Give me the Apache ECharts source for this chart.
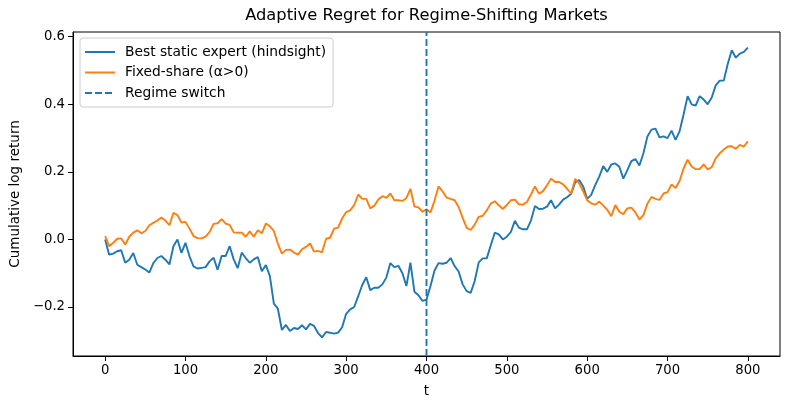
<!DOCTYPE html>
<html>
<head>
<meta charset="utf-8">
<script src="https://cdn.jsdelivr.net/npm/echarts@6/dist/echarts.min.js"></script>
<style>html,body{margin:0;padding:0;background:#fff;}#c{width:790px;height:409px;}</style>
</head>
<body>
<div id="c"></div>
<script>
// time steps (every 5 units)
var tStep = 5;
var tCount = 161;
var tValues = [];
for (var i = 0; i < tCount; i++) tValues.push(i * tStep);

var bestStatic = [
 0.000,-0.045,-0.042,-0.035,-0.032,-0.069,-0.060,-0.040,-0.075,-0.082,
-0.089,-0.098,-0.070,-0.055,-0.049,-0.060,-0.074,-0.020, 0.000,-0.040,
-0.010,-0.050,-0.080,-0.086,-0.084,-0.082,-0.065,-0.054,-0.090,-0.049,
-0.049,-0.020,-0.059,-0.085,-0.039,-0.055,-0.069,-0.059,-0.052,-0.094,
-0.076,-0.108,-0.190,-0.205,-0.268,-0.253,-0.271,-0.262,-0.265,-0.254,
-0.266,-0.250,-0.256,-0.277,-0.290,-0.274,-0.276,-0.279,-0.276,-0.260,
-0.220,-0.207,-0.200,-0.168,-0.135,-0.112,-0.150,-0.143,-0.143,-0.133,
-0.113,-0.070,-0.082,-0.078,-0.100,-0.138,-0.069,-0.155,-0.165,-0.182,
-0.178,-0.138,-0.092,-0.070,-0.072,-0.069,-0.055,-0.079,-0.095,-0.133,
-0.153,-0.158,-0.123,-0.068,-0.056,-0.056,-0.017, 0.020, 0.015, 0.000,
 0.008, 0.022, 0.055, 0.035, 0.030, 0.030, 0.056, 0.099, 0.090, 0.091,
 0.097, 0.116, 0.092, 0.103, 0.118, 0.125, 0.135, 0.169, 0.176, 0.157,
 0.120, 0.132, 0.161, 0.186, 0.217, 0.200, 0.222, 0.225, 0.215, 0.180,
 0.205, 0.232, 0.238, 0.219, 0.255, 0.305, 0.325, 0.328, 0.302, 0.305,
 0.300, 0.322, 0.295, 0.320, 0.370, 0.424, 0.400, 0.396, 0.424, 0.414,
 0.400, 0.420, 0.456, 0.470, 0.470, 0.520, 0.560, 0.538, 0.550, 0.555,
 0.568
];

var fixedShare = [
 0.010,-0.020,-0.010, 0.002, 0.003,-0.015, 0.008, 0.020, 0.027, 0.018,
 0.025, 0.042, 0.049, 0.056, 0.065, 0.056, 0.042, 0.079, 0.072, 0.050,
 0.052, 0.032, 0.010, 0.004, 0.003, 0.008, 0.022, 0.046, 0.048, 0.060,
 0.047, 0.043, 0.021, 0.020, 0.020, 0.008, 0.024, 0.008, 0.027, 0.018,
 0.047, 0.039, 0.025,-0.013,-0.042,-0.031,-0.030,-0.039,-0.045,-0.029,
-0.022,-0.012,-0.036,-0.034,-0.038, 0.002, 0.005, 0.032, 0.035, 0.062,
 0.081, 0.086, 0.102, 0.133, 0.120, 0.120, 0.092, 0.100, 0.118, 0.128,
 0.123, 0.136, 0.116, 0.116, 0.114, 0.123, 0.150, 0.097, 0.095, 0.082,
 0.089, 0.080, 0.115, 0.157, 0.142, 0.124, 0.120, 0.116, 0.096, 0.064,
 0.034, 0.028, 0.044, 0.067, 0.070, 0.086, 0.106, 0.113, 0.101, 0.090,
 0.102, 0.116, 0.118, 0.104, 0.103, 0.111, 0.133, 0.157, 0.135, 0.143,
 0.160, 0.180, 0.170, 0.170, 0.163, 0.150, 0.136, 0.179, 0.166, 0.142,
 0.116, 0.107, 0.103, 0.112, 0.100, 0.088, 0.069, 0.102, 0.082, 0.075,
 0.092, 0.094, 0.080, 0.059, 0.072, 0.106, 0.126, 0.120, 0.117, 0.136,
 0.140, 0.163, 0.152, 0.173, 0.210, 0.236, 0.216, 0.208, 0.208, 0.222,
 0.207, 0.214, 0.240, 0.255, 0.266, 0.275, 0.276, 0.268, 0.280, 0.275,
 0.290
];

var regimeSwitchT = 400;
var xTicks = [0, 100, 200, 300, 400, 500, 600, 700, 800];
var yTicks = [-0.2, 0.0, 0.2, 0.4, 0.6];
var xMin = -40, xMax = 840;
var yMin = -0.345, yMax = 0.614;

function pairs(xs, ys) { return xs.map(function (x, i) { return [x, ys[i]]; }); }

var FONT = 'DejaVu Sans';
var chart = echarts.init(document.getElementById('c'), null, { renderer: 'canvas' });
chart.setOption({
  animation: false,
  backgroundColor: '#fff',
  textStyle: { fontFamily: FONT },
  title: {
    text: 'Adaptive Regret for Regime-Shifting Markets',
    left: 426.5, top: 8, textAlign: 'center', padding: 0,
    textStyle: { fontFamily: FONT, fontSize: 16.3, fontWeight: 'normal', color: '#000' }
  },
  grid: { left: 73, right: 10, top: 32, bottom: 53, show: true, borderColor: '#000', borderWidth: 1, backgroundColor: 'transparent' },
  legend: {
    orient: 'vertical', left: 80, top: 38,
    padding: [7, 7, 7, 4], itemGap: 6.5, itemWidth: 30, itemHeight: 14,
    backgroundColor: 'rgba(255,255,255,0.8)', borderColor: '#cccccc', borderWidth: 1, borderRadius: 3,
    itemStyle: { opacity: 0, borderWidth: 0 },
    textStyle: { fontFamily: FONT, fontSize: 13.8, color: '#000', padding: [0, 0, 0, 5] },
    data: ['Best static expert (hindsight)', 'Fixed-share (\u03b1>0)', 'Regime switch']
  },
  xAxis: {
    type: 'value', min: xMin, max: xMax,
    name: 't', nameLocation: 'middle', nameGap: 28,
    nameTextStyle: { fontFamily: FONT, fontSize: 13.5, color: '#000' },
    axisLine: { show: true, onZero: false, lineStyle: { color: '#000', width: 1 } },
    axisTick: { show: true, length: 5, customValues: xTicks, lineStyle: { color: '#000', width: 1 } },
    axisLabel: { customValues: xTicks, margin: 8, fontFamily: FONT, fontSize: 13.2, color: '#000' },
    splitLine: { show: false }
  },
  yAxis: {
    type: 'value', min: yMin, max: yMax,
    name: 'Cumulative log return', nameLocation: 'middle', nameGap: 50, nameRotate: 90,
    nameTextStyle: { fontFamily: FONT, fontSize: 13.5, color: '#000' },
    axisLine: { show: true, onZero: false, lineStyle: { color: '#000', width: 1 } },
    axisTick: { show: true, length: 5, customValues: yTicks, lineStyle: { color: '#000', width: 1 } },
    axisLabel: {
      customValues: yTicks, margin: 8, fontFamily: FONT, fontSize: 13.2, color: '#000',
      formatter: function (v) { var s = Math.abs(v).toFixed(1); return v < -1e-9 ? '\u2212' + s : s; }
    },
    splitLine: { show: false }
  },
  series: [
    {
      name: 'Best static expert (hindsight)', type: 'line', symbol: 'none', showSymbol: false,
      data: pairs(tValues, bestStatic), color: '#1f77b4',
      lineStyle: { color: '#1f77b4', width: 1.9 }, z: 3
    },
    {
      name: 'Fixed-share (\u03b1>0)', type: 'line', symbol: 'none', showSymbol: false,
      data: pairs(tValues, fixedShare), color: '#ff7f0e',
      lineStyle: { color: '#ff7f0e', width: 1.9 }, z: 4
    },
    {
      name: 'Regime switch', type: 'line', symbol: 'none', showSymbol: false,
      data: [[regimeSwitchT, yMin], [regimeSwitchT, yMax]], color: '#1f77b4',
      lineStyle: { color: '#1f77b4', width: 1.9, type: [7, 3] }, z: 5
    }
  ]
});
</script>
</body>
</html>
